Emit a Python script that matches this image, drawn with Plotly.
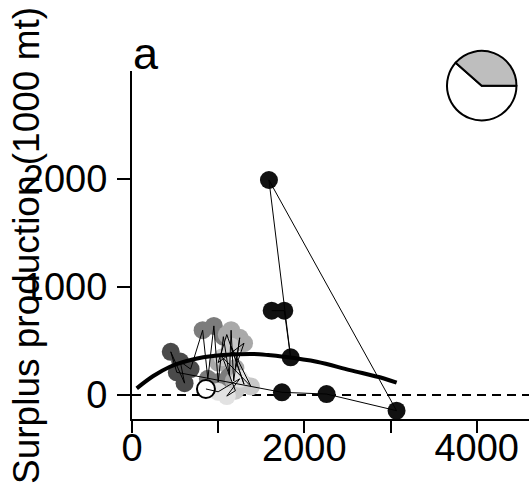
import plotly.graph_objects as go

# Observed biomass (1000 mt) and surplus production (1000 mt), in time order
biomass = [1621, 1767, 1841, 1589, 3070, 2258, 1740,
           520, 450, 610, 560, 680,
           820, 880, 950, 1000, 1060, 1130,
           1150, 1180, 1250, 1200, 1300, 1000, 1100,
           1300, 1150, 1380, 1050, 1200,
           1100, 1250, 1000,
           858]
surplus = [781, 781, 349, 1991, -145, 9, 25,
           210, 400, 110, 310, 240,
           600, 150, 640, 120, 540, 180,
           600, 130, 530, 250, 480, 300, 560,
           100, 450, 80, 350, 40,
           -10, 150, 30,
           56]
point_colors = ["#111111"] * 7 + ["#4a4a4a"] * 5 + ["#7c7c7c"] * 6 + \
               ["#a9a9a9"] * 7 + ["#c8c8c8"] * 5 + ["#e2e2e2"] * 3 + ["#ffffff"]

# Fitted production curve
fit_biomass = [55, 247, 441, 635, 827, 1021, 1215, 1407, 1580, 1755, 2143, 2529, 2915, 3071]
fit_surplus = [62, 176, 262, 315, 349, 368, 377, 380, 370, 355, 308, 231, 155, 114]

# Pie inset (white share first, grey share second)
pie_values = [61.5, 38.5]
pie_colors = ["#ffffff", "#bebebe"]

x_ticks = [0, 1000, 2000, 3000, 4000]
x_ticktext = ["0", "", "2000", "", "4000"]
y_ticks = [0, 1000, 2000]
y_ticktext = ["0", "1000", "2000"]

FONT = "Liberation Sans, Arial, sans-serif"

fig = go.Figure()

line_w = [0] * (len(biomass) - 1) + [2]
fig.add_trace(go.Scatter(
    x=biomass, y=surplus, mode="markers",
    marker=dict(size=18, color=point_colors,
                line=dict(color="black", width=line_w)),
    showlegend=False, hoverinfo="skip"))

fig.add_trace(go.Scatter(
    x=biomass, y=surplus, mode="lines",
    line=dict(color="black", width=1),
    showlegend=False, hoverinfo="skip"))

fig.add_trace(go.Scatter(
    x=fit_biomass, y=fit_surplus, mode="lines",
    line=dict(color="black", width=4, shape="spline"),
    showlegend=False, hoverinfo="skip"))

fig.add_hline(y=0, line=dict(color="black", width=2, dash="9px,6px"), layer="below")

fig.add_trace(go.Pie(
    values=pie_values, sort=False, direction="counterclockwise", rotation=90,
    marker=dict(colors=pie_colors, line=dict(color="black", width=2)),
    textinfo="none", hoverinfo="skip", showlegend=False,
    domain=dict(x=[0.7929, 0.9689], y=[0.7127, 0.8785])))

fig.add_annotation(text="a", xref="paper", yref="paper",
                   x=-0.003, y=0.872, xanchor="left", yanchor="middle",
                   showarrow=False, font=dict(family=FONT, size=45, color="black"))

fig.add_annotation(text="Surplus production (1000 mt)", xref="paper", yref="paper",
                   x=(26 - 132) / 397, y=(419 - 246) / 419, textangle=-90,
                   xanchor="center", yanchor="middle",
                   showarrow=False, font=dict(family=FONT, size=37, color="black"))

fig.update_layout(
    width=529, height=487,
    margin=dict(l=132, r=0, t=0, b=68),
    paper_bgcolor="white", plot_bgcolor="white",
    font=dict(family=FONT, color="black"),
    xaxis=dict(range=[0, 4607], showgrid=False, zeroline=False,
               showline=True, linecolor="black", linewidth=2,
               ticks="outside", ticklen=12, tickwidth=2, tickcolor="black",
               tickvals=x_ticks, ticktext=x_ticktext, automargin=False,
               ticklabelstandoff=-18,
               tickfont=dict(size=38, family=FONT, color="black")),
    yaxis=dict(range=[-222, 3000], domain=[0, 0.8305], showgrid=False, zeroline=False,
               showline=True, linecolor="black", linewidth=2,
               ticks="outside", ticklen=13, tickwidth=2, tickcolor="black",
               tickvals=y_ticks, ticktext=y_ticktext, automargin=False,
               ticklabelstandoff=2,
               tickfont=dict(size=38, family=FONT, color="black")),
)

fig.write_html("out.html", config={"displayModeBar": False},
               post_script="document.body.style.margin='0';document.body.style.overflow='hidden';")
